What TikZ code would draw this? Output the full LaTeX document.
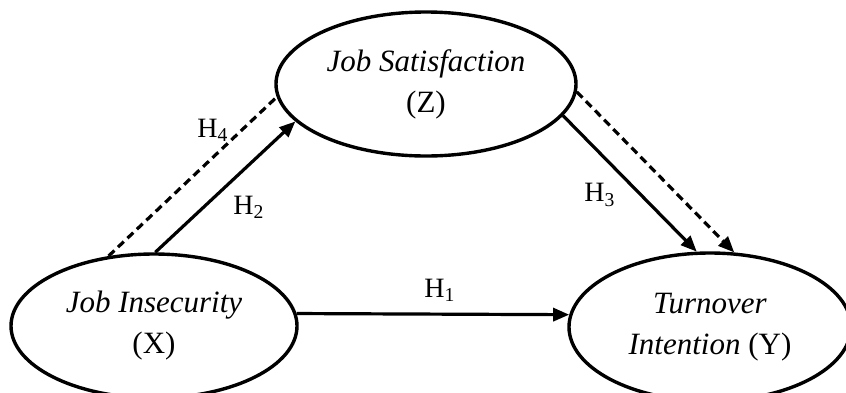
\documentclass[tikz,border=0pt]{standalone}
\usepackage{fontspec}
\setmainfont{Liberation Serif}
\usetikzlibrary{shapes.geometric,arrows.meta}

\begin{document}
\begin{tikzpicture}[x=0.5pt,y=-0.5pt,
  var/.style={ellipse, draw, line width=1.7pt, inner sep=0pt, align=center,
    font=\fontsize{15.5}{20.5}\selectfont},
  direct/.style={line width=1.6pt, -{Triangle[length=8pt,width=6.5pt]}},
  indirect/.style={line width=1.6pt, dash pattern=on 4pt off 2.5pt},
  hlab/.style={font=\fontsize{14}{16}\selectfont}]
\useasboundingbox (0,0) rectangle (846,392);

% Variables
\node[var, minimum width=150pt, minimum height=72pt] (js) at (426,84) {\textit{Job Satisfaction}\\(Z)};
\node[var, minimum width=143pt, minimum height=72pt] (ji) at (154,326) {\textit{Job Insecurity}\\(X)};
\node[var, minimum width=141pt, minimum height=74pt] (ti) at (710,327) {\textit{Turnover}\\\textit{Intention} (Y)};

% Direct paths
\draw[direct] (ji.5) -- (ti.175);
\draw[direct] (ji.89) -- (js.196);
\draw[direct] (js.-13) -- (ti.100);

% Mediation (dashed)
\draw[indirect] (ji.123) -- (js.185);
\draw[indirect, -{Triangle[length=8pt,width=6.5pt]}] (js.-3) -- (ti.72);

% Hypothesis labels
\node[hlab] (h1) at (440,290) {H\textsubscript{1}};
\node[hlab] (h2) at (249,207) {H\textsubscript{2}};
\node[hlab] (h3) at (600,195) {H\textsubscript{3}};
\node[hlab] (h4) at (213,130) {H\textsubscript{4}};

\end{tikzpicture}
\end{document}
